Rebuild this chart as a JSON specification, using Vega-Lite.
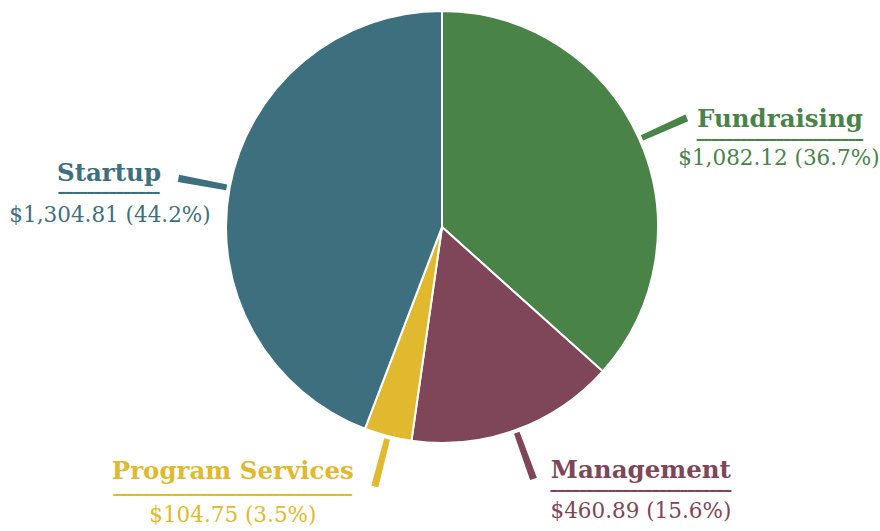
{
  "$schema": "https://vega.github.io/schema/vega-lite/v6.json",
  "autosize": {"type": "none"},
  "width": 876,
  "height": 454,
  "padding": {"left": 4, "top": 0, "right": 0, "bottom": 77},
  "background": "white",
  "view": {"stroke": null},
  "data": {
    "values": [
      {"category": "Fundraising", "value": 1082.12, "label": "$1,082.12 (36.7%)"},
      {"category": "Management", "value": 460.89, "label": "$460.89 (15.6%)"},
      {"category": "Program Services", "value": 104.75, "label": "$104.75 (3.5%)"},
      {"category": "Startup", "value": 1304.81, "label": "$1,304.81 (44.2%)"}
    ]
  },
  "transform": [
    {"window": [{"op": "sum", "field": "value", "as": "cum"}], "sort": [{"field": "category", "order": "ascending"}], "frame": [null, 0]},
    {"calculate": "datum.cum - datum.value", "as": "start"},
    {"calculate": "datum.cum - datum.value / 2", "as": "mid"},
    {"calculate": "datum.mid - 6.3", "as": "lo"},
    {"calculate": "datum.mid + 6.3", "as": "hi"}
  ],
  "encoding": {
    "color": {
      "field": "category",
      "type": "nominal",
      "scale": {
        "domain": ["Fundraising", "Management", "Program Services", "Startup"],
        "range": ["#4a8347", "#7e4658", "#e0b92e", "#3e6f7e"]
      },
      "legend": null
    }
  },
  "layer": [
    {
      "mark": {"type": "arc", "outerRadius": 216, "stroke": "white", "strokeWidth": 2},
      "encoding": {
        "theta": {"field": "start", "type": "quantitative", "stack": null, "scale": {"domain": [0, 2952.57], "zero": true, "nice": false}},
        "theta2": {"field": "cum"}
      }
    },
    {
      "mark": {"type": "arc", "innerRadius": 219, "outerRadius": 268},
      "encoding": {
        "theta": {"field": "lo", "type": "quantitative", "stack": null},
        "theta2": {"field": "hi"}
      }
    },
    {
      "transform": [{"filter": "datum.category == 'Fundraising'"}],
      "layer": [
        {"mark": {"type": "text", "radius": 272, "dx": 89.5, "dy": 10.6, "align": "center", "baseline": "alphabetic", "font": "DejaVu Serif", "fontWeight": "bold", "fontSize": 24.5},
         "encoding": {"theta": {"field": "mid", "type": "quantitative", "stack": null}, "text": {"field": "category"}}},
        {"mark": {"type": "text", "radius": 272, "dx": 89.5, "dy": 24, "align": "center", "baseline": "middle", "font": "DejaVu Sans Mono", "fontSize": 12, "text": "━━━━━━━━━━━━━━━━━━━━━━━"},
         "encoding": {"theta": {"field": "mid", "type": "quantitative", "stack": null}}},
        {"mark": {"type": "text", "radius": 272, "dx": 88.5, "dy": 48.6, "align": "center", "baseline": "alphabetic", "font": "DejaVu Serif", "fontSize": 21.5},
         "encoding": {"theta": {"field": "mid", "type": "quantitative", "stack": null}, "text": {"field": "label"}}}
      ]
    },
    {
      "transform": [{"filter": "datum.category == 'Startup'"}],
      "layer": [
        {"mark": {"type": "text", "radius": 272, "dx": -65.5, "dy": 3, "align": "center", "baseline": "alphabetic", "font": "DejaVu Serif", "fontWeight": "bold", "fontSize": 24.5},
         "encoding": {"theta": {"field": "mid", "type": "quantitative", "stack": null}, "text": {"field": "category"}}},
        {"mark": {"type": "text", "radius": 272, "dx": -65.5, "dy": 15.2, "align": "center", "baseline": "middle", "font": "DejaVu Sans Mono", "fontSize": 12, "text": "━━━━━━━━━━━━━━"},
         "encoding": {"theta": {"field": "mid", "type": "quantitative", "stack": null}}},
        {"mark": {"type": "text", "radius": 272, "dx": -64.5, "dy": 44.1, "align": "center", "baseline": "alphabetic", "font": "DejaVu Serif", "fontSize": 21.5},
         "encoding": {"theta": {"field": "mid", "type": "quantitative", "stack": null}, "text": {"field": "label"}}}
      ]
    },
    {
      "transform": [{"filter": "datum.category == 'Management'"}],
      "layer": [
        {"mark": {"type": "text", "radius": 272, "dx": 106, "dy": -4.4, "align": "center", "baseline": "alphabetic", "font": "DejaVu Serif", "fontWeight": "bold", "fontSize": 24.5},
         "encoding": {"theta": {"field": "mid", "type": "quantitative", "stack": null}, "text": {"field": "category"}}},
        {"mark": {"type": "text", "radius": 272, "dx": 106, "dy": 8, "align": "center", "baseline": "middle", "font": "DejaVu Sans Mono", "fontSize": 12, "text": "━━━━━━━━━━━━━━━━━━━━━━━━━"},
         "encoding": {"theta": {"field": "mid", "type": "quantitative", "stack": null}}},
        {"mark": {"type": "text", "radius": 272, "dx": 106, "dy": 35.6, "align": "center", "baseline": "alphabetic", "font": "DejaVu Serif", "fontSize": 21.5},
         "encoding": {"theta": {"field": "mid", "type": "quantitative", "stack": null}, "text": {"field": "label"}}}
      ]
    },
    {
      "transform": [{"filter": "datum.category == 'Program Services'"}],
      "layer": [
        {"mark": {"type": "text", "radius": 272, "dx": -141, "dy": -11, "align": "center", "baseline": "alphabetic", "font": "DejaVu Serif", "fontWeight": "bold", "fontSize": 24.5},
         "encoding": {"theta": {"field": "mid", "type": "quantitative", "stack": null}, "text": {"field": "category"}}},
        {"mark": {"type": "text", "radius": 272, "dx": -141, "dy": 4.4, "align": "center", "baseline": "middle", "font": "DejaVu Sans Mono", "fontSize": 12, "text": "━━━━━━━━━━━━━━━━━━━━━━━━━━━━━━━━━"},
         "encoding": {"theta": {"field": "mid", "type": "quantitative", "stack": null}}},
        {"mark": {"type": "text", "radius": 272, "dx": -141, "dy": 31.7, "align": "center", "baseline": "alphabetic", "font": "DejaVu Serif", "fontSize": 21.5},
         "encoding": {"theta": {"field": "mid", "type": "quantitative", "stack": null}, "text": {"field": "label"}}}
      ]
    }
  ]
}
